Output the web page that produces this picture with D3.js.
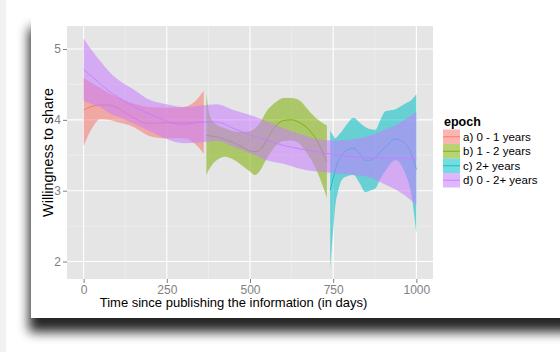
<!DOCTYPE html>
<html>
<head>
<meta charset="utf-8">
<script src="https://cdn.jsdelivr.net/npm/d3@7"></script>
<style>
  html, body { margin: 0; padding: 0; background: #fff; }
  svg { display: block; }
</style>
</head>
<body>
<div id="chart"></div>
<script>
'use strict';

// epochs shown in the legend
var epochs = ['a) 0 - 1 years', 'b) 1 - 2 years', 'c) 2+ years', 'd) 0 - 2+ years'];
var epochColors = ['#F8766D', '#7CAE00', '#00BFC4', '#C77CFF'];

var xTicks = [0, 250, 500, 750, 1000];
var yTicks = [2, 3, 4, 5];

// a) 0 - 1 years
var aDays  = [0, 25, 50, 75, 100, 125, 150, 175, 200, 250, 300, 330, 361];
var aMean  = [4.14, 4.19, 4.21, 4.21, 4.17, 4.10, 4.03, 3.97, 3.95, 3.96, 3.96, 3.96, 3.97];
var aUpper = [4.59, 4.52, 4.45, 4.38, 4.32, 4.27, 4.23, 4.20, 4.18, 4.17, 4.18, 4.24, 4.41];
var aLower = [3.63, 3.88, 4.01, 4.00, 3.97, 3.94, 3.90, 3.83, 3.77, 3.74, 3.74, 3.68, 3.52];

// b) 1 - 2 years
var bDays  = [369, 375, 385, 400, 425, 450, 475, 500, 515, 530, 550, 575, 600, 625, 650, 675, 700, 731];
var bMean  = [3.78, 3.78, 3.77, 3.76, 3.72, 3.68, 3.62, 3.56, 3.55, 3.57, 3.72, 3.90, 3.99, 4.00, 3.96, 3.87, 3.72, 3.40];
var bUpper = [4.37, 4.15, 4.00, 3.93, 3.88, 3.84, 3.83, 3.84, 3.88, 3.96, 4.12, 4.24, 4.31, 4.31, 4.27, 4.14, 4.02, 3.92];
var bLower = [3.22, 3.28, 3.36, 3.43, 3.48, 3.44, 3.36, 3.27, 3.22, 3.28, 3.45, 3.62, 3.70, 3.71, 3.66, 3.50, 3.29, 2.90];

// c) 2+ years
var cDays  = [741, 750, 756, 765, 776, 790, 811, 830, 846, 860, 877, 890, 907, 937, 967, 985, 1000];
var cMean  = [3.00, 3.18, 3.29, 3.42, 3.50, 3.57, 3.60, 3.52, 3.43, 3.43, 3.47, 3.54, 3.62, 3.73, 3.66, 3.52, 3.30];
var cUpper = [3.85, 3.78, 3.74, 3.78, 3.84, 3.93, 4.03, 3.96, 3.90, 3.87, 3.86, 3.98, 4.12, 4.15, 4.23, 4.28, 4.36];
var cLower = [1.90, 2.45, 2.77, 3.00, 3.15, 3.20, 3.22, 3.10, 2.98, 3.00, 3.03, 3.15, 3.28, 3.43, 3.24, 2.95, 2.40];

// d) 0 - 2+ years
var dDays  = [0, 25, 50, 75, 100, 150, 200, 250, 300, 350, 400, 450, 500, 550, 600, 650, 700, 750, 800, 850, 900, 950, 1000];
var dMean  = [4.71, 4.61, 4.51, 4.41, 4.33, 4.19, 4.08, 3.98, 3.93, 3.97, 3.97, 3.88, 3.79, 3.71, 3.64, 3.59, 3.55, 3.51, 3.48, 3.47, 3.46, 3.46, 3.45];
var dUpper = [5.15, 4.98, 4.83, 4.69, 4.58, 4.43, 4.28, 4.22, 4.18, 4.20, 4.22, 4.14, 4.07, 3.98, 3.88, 3.80, 3.73, 3.71, 3.72, 3.76, 3.85, 3.96, 4.11];
var dLower = [4.27, 4.22, 4.18, 4.10, 4.05, 3.95, 3.84, 3.73, 3.67, 3.68, 3.70, 3.62, 3.53, 3.43, 3.38, 3.31, 3.27, 3.25, 3.23, 3.20, 3.10, 2.98, 2.80];

var series = [
  { days: aDays, mean: aMean, upper: aUpper, lower: aLower },
  { days: bDays, mean: bMean, upper: bUpper, lower: bLower },
  { days: cDays, mean: cMean, upper: cUpper, lower: cLower },
  { days: dDays, mean: dMean, upper: dUpper, lower: dLower }
];

var width = 560;
var height = 352;
var panel = { left: 67, right: 433, top: 26, bottom: 279 };
var font = 'Liberation Sans, Arial, sans-serif';

var svg = d3.select('#chart').append('svg')
  .attr('width', width)
  .attr('height', height);

var defs = svg.append('defs');
defs.append('filter')
  .attr('id', 'shadowBlur')
  .attr('x', '-20%').attr('y', '-20%')
  .attr('width', '140%').attr('height', '140%')
  .append('feGaussianBlur')
  .attr('stdDeviation', 6);

// page + card with its shadow
svg.append('rect')
  .attr('x', 0).attr('y', 0)
  .attr('width', 6).attr('height', height)
  .attr('fill', '#f1f1f1');

svg.append('rect')
  .attr('x', 29).attr('y', 28)
  .attr('width', 560).attr('height', 304)
  .attr('fill', '#000')
  .attr('opacity', 0.85)
  .attr('filter', 'url(#shadowBlur)');

svg.append('rect')
  .attr('x', 31).attr('y', 14)
  .attr('width', 540).attr('height', 304)
  .attr('fill', '#fff');

var x = d3.scaleLinear()
  .domain([-50, 1050])
  .range([panel.left, panel.right]);

var y = d3.scaleLinear()
  .domain([1.753, 5.325])
  .range([panel.bottom, panel.top]);

// panel background and grid
svg.append('rect')
  .attr('x', panel.left).attr('y', panel.top)
  .attr('width', panel.right - panel.left)
  .attr('height', panel.bottom - panel.top)
  .attr('fill', '#e5e5e5');

var grid = svg.append('g');
var xMinor = [125, 375, 625, 875];
var yMinor = [2.5, 3.5, 4.5];

grid.selectAll('.xminor').data(xMinor).enter().append('line')
  .attr('x1', function (d) { return x(d); })
  .attr('x2', function (d) { return x(d); })
  .attr('y1', panel.top).attr('y2', panel.bottom)
  .attr('stroke', '#f2f2f2').attr('stroke-width', 0.6);

grid.selectAll('.yminor').data(yMinor).enter().append('line')
  .attr('y1', function (d) { return y(d); })
  .attr('y2', function (d) { return y(d); })
  .attr('x1', panel.left).attr('x2', panel.right)
  .attr('stroke', '#f2f2f2').attr('stroke-width', 0.6);

grid.selectAll('.xmajor').data(xTicks).enter().append('line')
  .attr('x1', function (d) { return x(d); })
  .attr('x2', function (d) { return x(d); })
  .attr('y1', panel.top).attr('y2', panel.bottom)
  .attr('stroke', '#fff').attr('stroke-width', 1.1);

grid.selectAll('.ymajor').data(yTicks).enter().append('line')
  .attr('y1', function (d) { return y(d); })
  .attr('y2', function (d) { return y(d); })
  .attr('x1', panel.left).attr('x2', panel.right)
  .attr('stroke', '#fff').attr('stroke-width', 1.1);

// ribbons and smooth lines
var area = d3.area()
  .x(function (d) { return x(d.day); })
  .y0(function (d) { return y(d.lower); })
  .y1(function (d) { return y(d.upper); })
  .curve(d3.curveMonotoneX);

var line = d3.line()
  .x(function (d) { return x(d.day); })
  .y(function (d) { return y(d.mean); })
  .curve(d3.curveMonotoneX);

var plot = svg.append('g');

series.forEach(function (s, i) {
  var rows = s.days.map(function (day, j) {
    return { day: day, mean: s.mean[j], upper: s.upper[j], lower: s.lower[j] };
  });

  plot.append('path')
    .datum(rows)
    .attr('d', area)
    .attr('fill', epochColors[i])
    .attr('fill-opacity', 0.55);

  plot.append('path')
    .datum(rows)
    .attr('d', line)
    .attr('fill', 'none')
    .attr('stroke', epochColors[i])
    .attr('stroke-width', 0.9);
});

// axes
var xAxis = svg.append('g')
  .attr('transform', 'translate(0,' + panel.bottom + ')')
  .call(d3.axisBottom(x).tickValues(xTicks).tickFormat(d3.format('d')).tickSize(4).tickPadding(2));

var yAxis = svg.append('g')
  .attr('transform', 'translate(' + panel.left + ',0)')
  .call(d3.axisLeft(y).tickValues(yTicks).tickFormat(d3.format('d')).tickSize(4).tickPadding(2));

[xAxis, yAxis].forEach(function (g) {
  g.select('.domain').remove();
  g.selectAll('.tick line').attr('stroke', '#7f7f7f');
  g.selectAll('.tick text')
    .attr('fill', '#7f7f7f')
    .attr('font-family', font)
    .attr('font-size', 12);
});

svg.append('text')
  .text('Time since publishing the information (in days)')
  .attr('x', 233.5)
  .attr('y', 307)
  .attr('text-anchor', 'middle')
  .attr('font-family', font)
  .attr('font-size', 13)
  .attr('fill', '#000');

svg.append('text')
  .text('Willingness to share')
  .attr('transform', 'translate(53,152.5) rotate(-90)')
  .attr('text-anchor', 'middle')
  .attr('font-family', font)
  .attr('font-size', 14.4)
  .attr('fill', '#000');

// legend
var legend = svg.append('g')
  .attr('transform', 'translate(443,0)');

legend.append('text')
  .text('epoch')
  .attr('x', 1)
  .attr('y', 126)
  .attr('font-family', font)
  .attr('font-size', 12.5)
  .attr('font-weight', 'bold')
  .attr('fill', '#000');

var keyTop = 129.5;
var keyStep = 14.5;

var keys = legend.selectAll('.key')
  .data(epochs).enter()
  .append('g')
  .attr('transform', function (d, i) { return 'translate(0,' + (keyTop + i * keyStep) + ')'; });

keys.append('rect')
  .attr('x', 0).attr('y', 0)
  .attr('width', 17).attr('height', keyStep)
  .attr('fill', function (d, i) { return epochColors[i]; })
  .attr('fill-opacity', 0.55);

keys.append('line')
  .attr('x1', 0).attr('x2', 17)
  .attr('y1', keyStep / 2).attr('y2', keyStep / 2)
  .attr('stroke', function (d, i) { return epochColors[i]; })
  .attr('stroke-width', 0.9);

keys.append('text')
  .text(function (d) { return d; })
  .attr('x', 20)
  .attr('y', keyStep / 2 + 4.2)
  .attr('font-family', font)
  .attr('font-size', 11.5)
  .attr('fill', '#000');
</script>
</body>
</html>
